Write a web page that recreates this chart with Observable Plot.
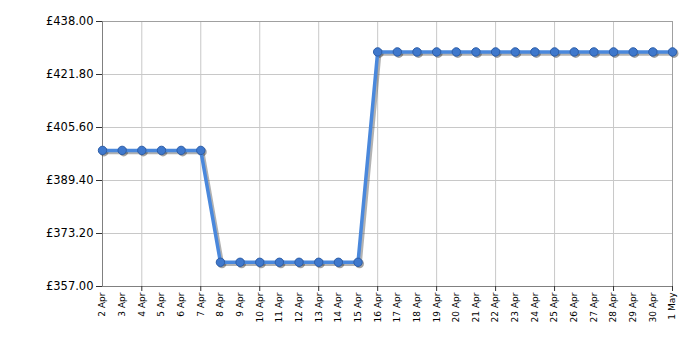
<!DOCTYPE html>
<html>
<head>
<meta charset="utf-8">
<script src="https://cdn.jsdelivr.net/npm/d3@7"></script>
<script src="https://cdn.jsdelivr.net/npm/@observablehq/plot@0.6"></script>
<style>
  html, body { margin: 0; padding: 0; background: #fff; }
  #chart { width: 700px; height: 350px; }
</style>
</head>
<body>
<div id="chart"></div>
<script>
const dates = ["2 Apr","3 Apr","4 Apr","5 Apr","6 Apr","7 Apr","8 Apr","9 Apr","10 Apr","11 Apr",
  "12 Apr","13 Apr","14 Apr","15 Apr","16 Apr","17 Apr","18 Apr","19 Apr","20 Apr","21 Apr",
  "22 Apr","23 Apr","24 Apr","25 Apr","26 Apr","27 Apr","28 Apr","29 Apr","30 Apr","1 May"];
const prices = [398.6,398.6,398.6,398.6,398.6,398.6,364.4,364.4,364.4,364.4,
  364.4,364.4,364.4,364.4,428.7,428.7,428.7,428.7,428.7,428.7,
  428.7,428.7,428.7,428.7,428.7,428.7,428.7,428.7,428.7,428.7];
const yTicks = [357.0, 373.2, 389.4, 405.6, 421.8, 438.0];
const gridDates = ["4 Apr","7 Apr","10 Apr","13 Apr","16 Apr","19 Apr","22 Apr","25 Apr","28 Apr","1 May"];

const data = dates.map((d, i) => ({date: d, price: prices[i]}));

const chart = Plot.plot({
  width: 700,
  height: 350,
  marginLeft: 102,
  marginRight: 28,
  marginTop: 21,
  marginBottom: 64,
  style: {fontFamily: "'DejaVu Sans', Verdana, sans-serif", color: "#000", background: "#fff"},
  x: {type: "point", domain: dates, padding: 0, round: false},
  y: {domain: [357, 438]},
  marks: [
    Plot.gridY(yTicks, {stroke: "#c8c8c8", strokeOpacity: 1}),
    Plot.gridX(gridDates, {stroke: "#c8c8c8", strokeOpacity: 1}),
    Plot.frame({stroke: "#a0a0a0"}),
    Plot.ruleX([dates[0]], {stroke: "#808080"}),
    Plot.ruleY([357], {stroke: "#808080"}),
    Plot.axisY({ticks: yTicks, tickSize: 6, tickPadding: 3, fontSize: 11.5,
      tickFormat: d => "£" + d.toFixed(2), label: null, stroke: "#333"}),
    Plot.axisX({ticks: gridDates, tickSize: 5, tickFormat: () => "", label: null, stroke: "#333"}),
    Plot.axisX({ticks: dates, tickSize: 0, tickPadding: 6, tickRotate: -90, fontSize: 9, label: null}),
    // shadow
    Plot.line(data, {x: "date", y: "price", dx: 2, dy: 2, stroke: "#555", strokeOpacity: 0.45, strokeWidth: 3.5}),
    Plot.dot(data, {x: "date", y: "price", dx: 1.5, dy: 1.5, r: 4.5, fill: "#333", fillOpacity: 0.45, stroke: "none"}),
    // main
    Plot.line(data, {x: "date", y: "price", stroke: "#4a88dc", strokeWidth: 3.5}),
    Plot.dot(data, {x: "date", y: "price", r: 4.2, fill: "#3f78cc", stroke: "#2d5ea8", strokeWidth: 1})
  ]
});
document.getElementById("chart").appendChild(chart);
</script>
</body>
</html>
